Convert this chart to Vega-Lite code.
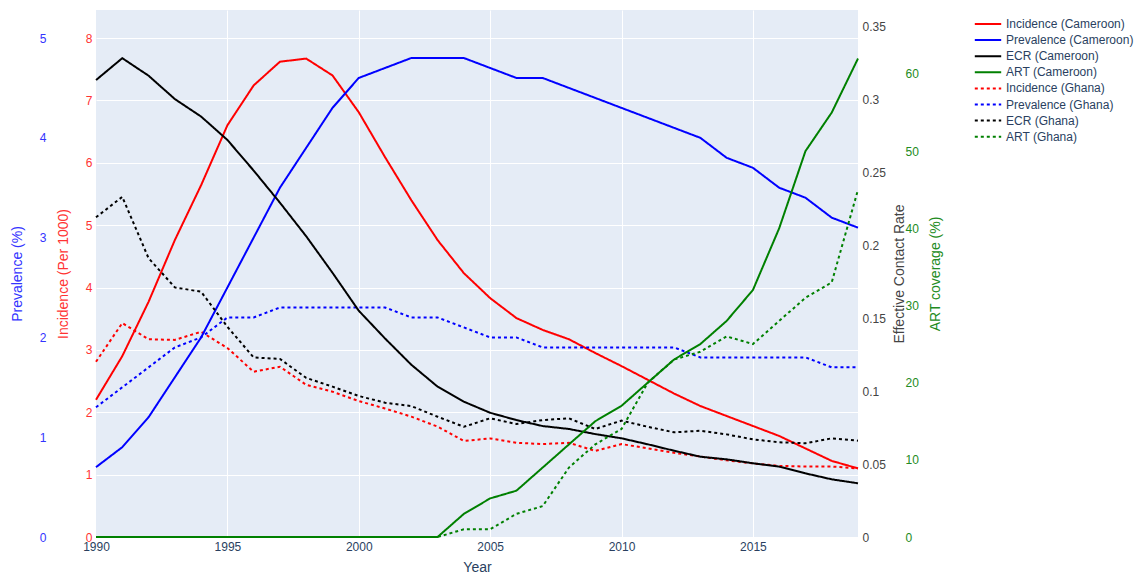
{
  "$schema": "https://vega.github.io/schema/vega-lite/v6.json",
  "width": 762,
  "height": 527,
  "autosize": {"type": "none"},
  "padding": {"left": 96, "top": 10, "right": 277, "bottom": 38},
  "background": "white",
  "config": {
    "view": {"fill": "#E5ECF6", "stroke": null},
    "font": "Liberation Sans",
    "axis": {"domain": false, "ticks": false, "tickSize": 0, "gridColor": "white", "gridWidth": 1, "gridOpacity": 1, "labelFontSize": 12, "titleFontSize": 14, "titleFontWeight": "normal", "labelPadding": 4, "labelFont": "Liberation Sans", "titleFont": "Liberation Sans"},
    "legend": {"orient": "none", "legendX": 885, "legendY": 7, "padding": 0, "title": null, "symbolType": "M-2.2,0H2.2", "symbolSize": 144, "symbolStrokeWidth": 2, "labelOffset": 11, "rowPadding": 3.1, "labelFontSize": 12, "labelColor": "#2a3f5f", "labelFont": "Liberation Sans", "labelLimit": 250}
  },
  "data": {"values": [
    {"Year":1990,"Series":"Incidence (Cameroon)","Value":2.20},{"Year":1991,"Series":"Incidence (Cameroon)","Value":2.90},{"Year":1992,"Series":"Incidence (Cameroon)","Value":3.77},{"Year":1993,"Series":"Incidence (Cameroon)","Value":4.76},{"Year":1994,"Series":"Incidence (Cameroon)","Value":5.64},{"Year":1995,"Series":"Incidence (Cameroon)","Value":6.60},{"Year":1996,"Series":"Incidence (Cameroon)","Value":7.24},{"Year":1997,"Series":"Incidence (Cameroon)","Value":7.62},{"Year":1998,"Series":"Incidence (Cameroon)","Value":7.67},{"Year":1999,"Series":"Incidence (Cameroon)","Value":7.40},{"Year":2000,"Series":"Incidence (Cameroon)","Value":6.81},{"Year":2001,"Series":"Incidence (Cameroon)","Value":6.09},{"Year":2002,"Series":"Incidence (Cameroon)","Value":5.40},{"Year":2003,"Series":"Incidence (Cameroon)","Value":4.76},{"Year":2004,"Series":"Incidence (Cameroon)","Value":4.23},{"Year":2005,"Series":"Incidence (Cameroon)","Value":3.83},{"Year":2006,"Series":"Incidence (Cameroon)","Value":3.51},{"Year":2007,"Series":"Incidence (Cameroon)","Value":3.32},{"Year":2008,"Series":"Incidence (Cameroon)","Value":3.17},{"Year":2009,"Series":"Incidence (Cameroon)","Value":2.95},{"Year":2010,"Series":"Incidence (Cameroon)","Value":2.74},{"Year":2011,"Series":"Incidence (Cameroon)","Value":2.52},{"Year":2012,"Series":"Incidence (Cameroon)","Value":2.30},{"Year":2013,"Series":"Incidence (Cameroon)","Value":2.10},{"Year":2014,"Series":"Incidence (Cameroon)","Value":1.94},{"Year":2015,"Series":"Incidence (Cameroon)","Value":1.78},{"Year":2016,"Series":"Incidence (Cameroon)","Value":1.62},{"Year":2017,"Series":"Incidence (Cameroon)","Value":1.42},{"Year":2018,"Series":"Incidence (Cameroon)","Value":1.22},{"Year":2019,"Series":"Incidence (Cameroon)","Value":1.10},
    {"Year":1990,"Series":"Incidence (Ghana)","Value":2.81},{"Year":1991,"Series":"Incidence (Ghana)","Value":3.43},{"Year":1992,"Series":"Incidence (Ghana)","Value":3.17},{"Year":1993,"Series":"Incidence (Ghana)","Value":3.16},{"Year":1994,"Series":"Incidence (Ghana)","Value":3.29},{"Year":1995,"Series":"Incidence (Ghana)","Value":3.03},{"Year":1996,"Series":"Incidence (Ghana)","Value":2.65},{"Year":1997,"Series":"Incidence (Ghana)","Value":2.73},{"Year":1998,"Series":"Incidence (Ghana)","Value":2.44},{"Year":1999,"Series":"Incidence (Ghana)","Value":2.33},{"Year":2000,"Series":"Incidence (Ghana)","Value":2.18},{"Year":2001,"Series":"Incidence (Ghana)","Value":2.06},{"Year":2002,"Series":"Incidence (Ghana)","Value":1.93},{"Year":2003,"Series":"Incidence (Ghana)","Value":1.77},{"Year":2004,"Series":"Incidence (Ghana)","Value":1.54},{"Year":2005,"Series":"Incidence (Ghana)","Value":1.58},{"Year":2006,"Series":"Incidence (Ghana)","Value":1.51},{"Year":2007,"Series":"Incidence (Ghana)","Value":1.49},{"Year":2008,"Series":"Incidence (Ghana)","Value":1.51},{"Year":2009,"Series":"Incidence (Ghana)","Value":1.38},{"Year":2010,"Series":"Incidence (Ghana)","Value":1.49},{"Year":2011,"Series":"Incidence (Ghana)","Value":1.42},{"Year":2012,"Series":"Incidence (Ghana)","Value":1.35},{"Year":2013,"Series":"Incidence (Ghana)","Value":1.29},{"Year":2014,"Series":"Incidence (Ghana)","Value":1.23},{"Year":2015,"Series":"Incidence (Ghana)","Value":1.18},{"Year":2016,"Series":"Incidence (Ghana)","Value":1.14},{"Year":2017,"Series":"Incidence (Ghana)","Value":1.13},{"Year":2018,"Series":"Incidence (Ghana)","Value":1.13},{"Year":2019,"Series":"Incidence (Ghana)","Value":1.10},
    {"Year":1990,"Series":"Prevalence (Cameroon)","Value":0.7},{"Year":1991,"Series":"Prevalence (Cameroon)","Value":0.9},{"Year":1992,"Series":"Prevalence (Cameroon)","Value":1.2},{"Year":1993,"Series":"Prevalence (Cameroon)","Value":1.6},{"Year":1994,"Series":"Prevalence (Cameroon)","Value":2.0},{"Year":1995,"Series":"Prevalence (Cameroon)","Value":2.5},{"Year":1996,"Series":"Prevalence (Cameroon)","Value":3.0},{"Year":1997,"Series":"Prevalence (Cameroon)","Value":3.5},{"Year":1998,"Series":"Prevalence (Cameroon)","Value":3.9},{"Year":1999,"Series":"Prevalence (Cameroon)","Value":4.3},{"Year":2000,"Series":"Prevalence (Cameroon)","Value":4.6},{"Year":2001,"Series":"Prevalence (Cameroon)","Value":4.7},{"Year":2002,"Series":"Prevalence (Cameroon)","Value":4.8},{"Year":2003,"Series":"Prevalence (Cameroon)","Value":4.8},{"Year":2004,"Series":"Prevalence (Cameroon)","Value":4.8},{"Year":2005,"Series":"Prevalence (Cameroon)","Value":4.7},{"Year":2006,"Series":"Prevalence (Cameroon)","Value":4.6},{"Year":2007,"Series":"Prevalence (Cameroon)","Value":4.6},{"Year":2008,"Series":"Prevalence (Cameroon)","Value":4.5},{"Year":2009,"Series":"Prevalence (Cameroon)","Value":4.4},{"Year":2010,"Series":"Prevalence (Cameroon)","Value":4.3},{"Year":2011,"Series":"Prevalence (Cameroon)","Value":4.2},{"Year":2012,"Series":"Prevalence (Cameroon)","Value":4.1},{"Year":2013,"Series":"Prevalence (Cameroon)","Value":4.0},{"Year":2014,"Series":"Prevalence (Cameroon)","Value":3.8},{"Year":2015,"Series":"Prevalence (Cameroon)","Value":3.7},{"Year":2016,"Series":"Prevalence (Cameroon)","Value":3.5},{"Year":2017,"Series":"Prevalence (Cameroon)","Value":3.4},{"Year":2018,"Series":"Prevalence (Cameroon)","Value":3.2},{"Year":2019,"Series":"Prevalence (Cameroon)","Value":3.1},
    {"Year":1990,"Series":"Prevalence (Ghana)","Value":1.3},{"Year":1991,"Series":"Prevalence (Ghana)","Value":1.5},{"Year":1992,"Series":"Prevalence (Ghana)","Value":1.7},{"Year":1993,"Series":"Prevalence (Ghana)","Value":1.9},{"Year":1994,"Series":"Prevalence (Ghana)","Value":2.0},{"Year":1995,"Series":"Prevalence (Ghana)","Value":2.2},{"Year":1996,"Series":"Prevalence (Ghana)","Value":2.2},{"Year":1997,"Series":"Prevalence (Ghana)","Value":2.3},{"Year":1998,"Series":"Prevalence (Ghana)","Value":2.3},{"Year":1999,"Series":"Prevalence (Ghana)","Value":2.3},{"Year":2000,"Series":"Prevalence (Ghana)","Value":2.3},{"Year":2001,"Series":"Prevalence (Ghana)","Value":2.3},{"Year":2002,"Series":"Prevalence (Ghana)","Value":2.2},{"Year":2003,"Series":"Prevalence (Ghana)","Value":2.2},{"Year":2004,"Series":"Prevalence (Ghana)","Value":2.1},{"Year":2005,"Series":"Prevalence (Ghana)","Value":2.0},{"Year":2006,"Series":"Prevalence (Ghana)","Value":2.0},{"Year":2007,"Series":"Prevalence (Ghana)","Value":1.9},{"Year":2008,"Series":"Prevalence (Ghana)","Value":1.9},{"Year":2009,"Series":"Prevalence (Ghana)","Value":1.9},{"Year":2010,"Series":"Prevalence (Ghana)","Value":1.9},{"Year":2011,"Series":"Prevalence (Ghana)","Value":1.9},{"Year":2012,"Series":"Prevalence (Ghana)","Value":1.9},{"Year":2013,"Series":"Prevalence (Ghana)","Value":1.8},{"Year":2014,"Series":"Prevalence (Ghana)","Value":1.8},{"Year":2015,"Series":"Prevalence (Ghana)","Value":1.8},{"Year":2016,"Series":"Prevalence (Ghana)","Value":1.8},{"Year":2017,"Series":"Prevalence (Ghana)","Value":1.8},{"Year":2018,"Series":"Prevalence (Ghana)","Value":1.7},{"Year":2019,"Series":"Prevalence (Ghana)","Value":1.7},
    {"Year":1990,"Series":"ECR (Cameroon)","Value":0.313},{"Year":1991,"Series":"ECR (Cameroon)","Value":0.328},{"Year":1992,"Series":"ECR (Cameroon)","Value":0.316},{"Year":1993,"Series":"ECR (Cameroon)","Value":0.300},{"Year":1994,"Series":"ECR (Cameroon)","Value":0.288},{"Year":1995,"Series":"ECR (Cameroon)","Value":0.272},{"Year":1996,"Series":"ECR (Cameroon)","Value":0.251},{"Year":1997,"Series":"ECR (Cameroon)","Value":0.229},{"Year":1998,"Series":"ECR (Cameroon)","Value":0.206},{"Year":1999,"Series":"ECR (Cameroon)","Value":0.181},{"Year":2000,"Series":"ECR (Cameroon)","Value":0.155},{"Year":2001,"Series":"ECR (Cameroon)","Value":0.136},{"Year":2002,"Series":"ECR (Cameroon)","Value":0.118},{"Year":2003,"Series":"ECR (Cameroon)","Value":0.103},{"Year":2004,"Series":"ECR (Cameroon)","Value":0.0927},{"Year":2005,"Series":"ECR (Cameroon)","Value":0.0851},{"Year":2006,"Series":"ECR (Cameroon)","Value":0.0801},{"Year":2007,"Series":"ECR (Cameroon)","Value":0.0760},{"Year":2008,"Series":"ECR (Cameroon)","Value":0.0740},{"Year":2009,"Series":"ECR (Cameroon)","Value":0.0705},{"Year":2010,"Series":"ECR (Cameroon)","Value":0.0676},{"Year":2011,"Series":"ECR (Cameroon)","Value":0.0635},{"Year":2012,"Series":"ECR (Cameroon)","Value":0.0591},{"Year":2013,"Series":"ECR (Cameroon)","Value":0.0550},{"Year":2014,"Series":"ECR (Cameroon)","Value":0.0532},{"Year":2015,"Series":"ECR (Cameroon)","Value":0.0505},{"Year":2016,"Series":"ECR (Cameroon)","Value":0.0482},{"Year":2017,"Series":"ECR (Cameroon)","Value":0.0436},{"Year":2018,"Series":"ECR (Cameroon)","Value":0.0395},{"Year":2019,"Series":"ECR (Cameroon)","Value":0.0368},
    {"Year":1990,"Series":"ECR (Ghana)","Value":0.219},{"Year":1991,"Series":"ECR (Ghana)","Value":0.233},{"Year":1992,"Series":"ECR (Ghana)","Value":0.191},{"Year":1993,"Series":"ECR (Ghana)","Value":0.171},{"Year":1994,"Series":"ECR (Ghana)","Value":0.168},{"Year":1995,"Series":"ECR (Ghana)","Value":0.144},{"Year":1996,"Series":"ECR (Ghana)","Value":0.123},{"Year":1997,"Series":"ECR (Ghana)","Value":0.122},{"Year":1998,"Series":"ECR (Ghana)","Value":0.109},{"Year":1999,"Series":"ECR (Ghana)","Value":0.103},{"Year":2000,"Series":"ECR (Ghana)","Value":0.0966},{"Year":2001,"Series":"ECR (Ghana)","Value":0.0920},{"Year":2002,"Series":"ECR (Ghana)","Value":0.0897},{"Year":2003,"Series":"ECR (Ghana)","Value":0.0824},{"Year":2004,"Series":"ECR (Ghana)","Value":0.0755},{"Year":2005,"Series":"ECR (Ghana)","Value":0.0813},{"Year":2006,"Series":"ECR (Ghana)","Value":0.0774},{"Year":2007,"Series":"ECR (Ghana)","Value":0.0801},{"Year":2008,"Series":"ECR (Ghana)","Value":0.0813},{"Year":2009,"Series":"ECR (Ghana)","Value":0.0740},{"Year":2010,"Series":"ECR (Ghana)","Value":0.0797},{"Year":2011,"Series":"ECR (Ghana)","Value":0.0755},{"Year":2012,"Series":"ECR (Ghana)","Value":0.0717},{"Year":2013,"Series":"ECR (Ghana)","Value":0.0728},{"Year":2014,"Series":"ECR (Ghana)","Value":0.0703},{"Year":2015,"Series":"ECR (Ghana)","Value":0.0669},{"Year":2016,"Series":"ECR (Ghana)","Value":0.0649},{"Year":2017,"Series":"ECR (Ghana)","Value":0.0642},{"Year":2018,"Series":"ECR (Ghana)","Value":0.0676},{"Year":2019,"Series":"ECR (Ghana)","Value":0.0660},
    {"Year":1990,"Series":"ART (Cameroon)","Value":0},{"Year":1991,"Series":"ART (Cameroon)","Value":0},{"Year":1992,"Series":"ART (Cameroon)","Value":0},{"Year":1993,"Series":"ART (Cameroon)","Value":0},{"Year":1994,"Series":"ART (Cameroon)","Value":0},{"Year":1995,"Series":"ART (Cameroon)","Value":0},{"Year":1996,"Series":"ART (Cameroon)","Value":0},{"Year":1997,"Series":"ART (Cameroon)","Value":0},{"Year":1998,"Series":"ART (Cameroon)","Value":0},{"Year":1999,"Series":"ART (Cameroon)","Value":0},{"Year":2000,"Series":"ART (Cameroon)","Value":0},{"Year":2001,"Series":"ART (Cameroon)","Value":0},{"Year":2002,"Series":"ART (Cameroon)","Value":0},{"Year":2003,"Series":"ART (Cameroon)","Value":0},{"Year":2004,"Series":"ART (Cameroon)","Value":3},{"Year":2005,"Series":"ART (Cameroon)","Value":5},{"Year":2006,"Series":"ART (Cameroon)","Value":6},{"Year":2007,"Series":"ART (Cameroon)","Value":9},{"Year":2008,"Series":"ART (Cameroon)","Value":12},{"Year":2009,"Series":"ART (Cameroon)","Value":15},{"Year":2010,"Series":"ART (Cameroon)","Value":17},{"Year":2011,"Series":"ART (Cameroon)","Value":20},{"Year":2012,"Series":"ART (Cameroon)","Value":23},{"Year":2013,"Series":"ART (Cameroon)","Value":25},{"Year":2014,"Series":"ART (Cameroon)","Value":28},{"Year":2015,"Series":"ART (Cameroon)","Value":32},{"Year":2016,"Series":"ART (Cameroon)","Value":40},{"Year":2017,"Series":"ART (Cameroon)","Value":50},{"Year":2018,"Series":"ART (Cameroon)","Value":55},{"Year":2019,"Series":"ART (Cameroon)","Value":62},
    {"Year":1990,"Series":"ART (Ghana)","Value":0},{"Year":1991,"Series":"ART (Ghana)","Value":0},{"Year":1992,"Series":"ART (Ghana)","Value":0},{"Year":1993,"Series":"ART (Ghana)","Value":0},{"Year":1994,"Series":"ART (Ghana)","Value":0},{"Year":1995,"Series":"ART (Ghana)","Value":0},{"Year":1996,"Series":"ART (Ghana)","Value":0},{"Year":1997,"Series":"ART (Ghana)","Value":0},{"Year":1998,"Series":"ART (Ghana)","Value":0},{"Year":1999,"Series":"ART (Ghana)","Value":0},{"Year":2000,"Series":"ART (Ghana)","Value":0},{"Year":2001,"Series":"ART (Ghana)","Value":0},{"Year":2002,"Series":"ART (Ghana)","Value":0},{"Year":2003,"Series":"ART (Ghana)","Value":0},{"Year":2004,"Series":"ART (Ghana)","Value":1},{"Year":2005,"Series":"ART (Ghana)","Value":1},{"Year":2006,"Series":"ART (Ghana)","Value":3},{"Year":2007,"Series":"ART (Ghana)","Value":4},{"Year":2008,"Series":"ART (Ghana)","Value":9},{"Year":2009,"Series":"ART (Ghana)","Value":12},{"Year":2010,"Series":"ART (Ghana)","Value":14},{"Year":2011,"Series":"ART (Ghana)","Value":20},{"Year":2012,"Series":"ART (Ghana)","Value":23},{"Year":2013,"Series":"ART (Ghana)","Value":24},{"Year":2014,"Series":"ART (Ghana)","Value":26},{"Year":2015,"Series":"ART (Ghana)","Value":25},{"Year":2016,"Series":"ART (Ghana)","Value":28},{"Year":2017,"Series":"ART (Ghana)","Value":31},{"Year":2018,"Series":"ART (Ghana)","Value":33},{"Year":2019,"Series":"ART (Ghana)","Value":45}
  ]},
  "encoding": {
    "x": {"field": "Year", "type": "quantitative", "scale": {"domain": [1990, 2019], "nice": false, "zero": false},
      "axis": {"values": [1990, 1995, 2000, 2005, 2010, 2015], "format": "d", "title": "Year", "labelFlush": false, "labelColor": "#2a3f5f", "titleColor": "#2a3f5f", "titlePadding": 8,
        "gridOpacity": {"condition": {"test": "datum.value == 1990", "value": 0}, "value": 1}}},
    "color": {"field": "Series", "type": "nominal",
      "scale": {"domain": ["Incidence (Cameroon)", "Prevalence (Cameroon)", "ECR (Cameroon)", "ART (Cameroon)", "Incidence (Ghana)", "Prevalence (Ghana)", "ECR (Ghana)", "ART (Ghana)"],
        "range": ["#ff0000", "#0000ff", "#000000", "#008000", "#ff0000", "#0000ff", "#000000", "#008000"]},
      "legend": {"title": null}},
    "strokeDash": {"field": "Series", "type": "nominal",
      "scale": {"domain": ["Incidence (Cameroon)", "Prevalence (Cameroon)", "ECR (Cameroon)", "ART (Cameroon)", "Incidence (Ghana)", "Prevalence (Ghana)", "ECR (Ghana)", "ART (Ghana)"],
        "range": [[1, 0], [1, 0], [1, 0], [1, 0], [3, 3], [3, 3], [3, 3], [3, 3]]},
      "legend": {"title": null}}
  },
  "layer": [
    {
      "transform": [{"filter": {"field": "Series", "oneOf": ["Incidence (Cameroon)", "Incidence (Ghana)"]}}],
      "mark": {"type": "line", "strokeWidth": 2},
      "encoding": {"y": {"field": "Value", "type": "quantitative", "scale": {"domain": [0, 8.449], "nice": false, "zero": false},
        "axis": {"orient": "left", "offset": 0, "values": [0, 1, 2, 3, 4, 5, 6, 7, 8], "title": "Incidence (Per 1000)", "labelColor": "#ff3333", "titleColor": "#ff3333", "titlePadding": 15}}}
    },
    {
      "transform": [{"filter": {"field": "Series", "oneOf": ["Prevalence (Cameroon)", "Prevalence (Ghana)"]}}],
      "mark": {"type": "line", "strokeWidth": 2},
      "encoding": {"y": {"field": "Value", "type": "quantitative", "scale": {"domain": [0, 5.281], "nice": false, "zero": false},
        "axis": {"orient": "left", "offset": 46, "values": [0, 1, 2, 3, 4, 5], "title": "Prevalence (%)", "labelColor": "#3333ff", "titleColor": "#3333ff", "titlePadding": 15}}}
    },
    {
      "transform": [{"filter": {"field": "Series", "oneOf": ["ECR (Cameroon)", "ECR (Ghana)"]}}],
      "mark": {"type": "line", "strokeWidth": 2},
      "encoding": {"y": {"field": "Value", "type": "quantitative", "scale": {"domain": [0, 0.361], "nice": false, "zero": false},
        "axis": {"orient": "right", "offset": 0, "values": [0, 0.05, 0.1, 0.15, 0.2, 0.25, 0.3, 0.35], "format": "~g", "title": "Effective Contact Rate", "titleAngle": 270, "labelColor": "#444444", "titleColor": "#444444", "titlePadding": 21}}}
    },
    {
      "transform": [{"filter": {"field": "Series", "oneOf": ["ART (Cameroon)", "ART (Ghana)"]}}],
      "mark": {"type": "line", "strokeWidth": 2},
      "encoding": {"y": {"field": "Value", "type": "quantitative", "scale": {"domain": [0, 68.29], "nice": false, "zero": false},
        "axis": {"orient": "right", "offset": 43, "values": [0, 10, 20, 30, 40, 50, 60], "title": "ART coverage (%)", "titleAngle": 270, "labelColor": "#228b22", "titleColor": "#228b22", "titlePadding": 24}}}
    }
  ],
  "resolve": {"scale": {"y": "independent"}}
}
